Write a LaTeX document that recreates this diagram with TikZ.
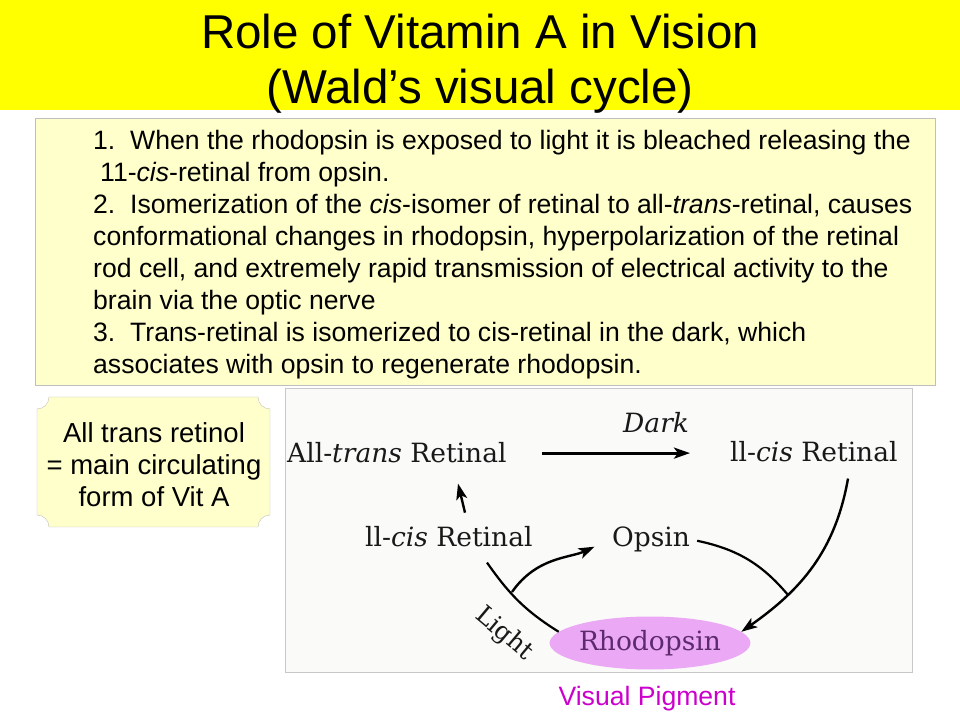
\documentclass[tikz,border=0pt]{standalone}
\usepackage{fontspec}
\setsansfont{Liberation Sans}
\newfontfamily\scanfont{DejaVu Serif}
\setlength{\parindent}{0pt}
\usepackage{tikz}
\usetikzlibrary{arrows.meta,shapes.geometric}

\definecolor{titleyellow}{HTML}{FFFF00}
\definecolor{notecream}{HTML}{FFFFCC}
\definecolor{noteedge}{HTML}{BFBFBF}
\definecolor{panelgray}{HTML}{FAFAF8}
\definecolor{paneledge}{HTML}{C8C8C8}
\definecolor{rhodofill}{HTML}{EBA8F5}
\definecolor{rhodotext}{HTML}{5E2A6E}
\definecolor{pigmentmagenta}{HTML}{CC00CC}

\begin{document}
\begin{tikzpicture}[x=1pt,y=1pt]
        \tikzstyle{arrow} = [line width=2.4pt,->,>={Stealth[length=16pt,width=11pt,inset=4pt]}]
        \tikzstyle{plainline} = [line width=2.2pt]
        \tikzstyle{term} = [font=\scanfont\fontsize{26.5}{32}\selectfont,text=black!90,inner sep=3pt,anchor=base west]
        \tikzstyle{bodytext} = [font=\sffamily\fontsize{26.6}{32}\selectfont,inner sep=0]

        \useasboundingbox (0,0) rectangle (960,720);
        \fill[titleyellow] (0,610) rectangle (960,720);
        \node[font=\sffamily\fontsize{47.5}{55}\selectfont,align=center,inner sep=0] (title) at (480,656.5) {Role of Vitamin A in Vision\\(Wald’s visual cycle)};

        \draw[noteedge,fill=notecream] (35,602) rectangle (935,335);
        \node[bodytext,align=left,anchor=north west] (steps) at (93,590.4) {1.\ \ When the rhodopsin is exposed to light it is bleached releasing the\\
            \hspace*{7pt}11-\textit{cis}-retinal from opsin.\\
            2.\ \ Isomerization of the \textit{cis}-isomer of retinal to all-\textit{trans}-retinal, causes\\
            conformational changes in rhodopsin, hyperpolarization of the retinal\\
            rod cell, and extremely rapid transmission of electrical activity to the\\
            brain via the optic nerve\\
            3.\ \ Trans-retinal is isomerized to cis-retinal in the dark, which\\
            associates with opsin to regenerate rhodopsin.};

        \draw[noteedge,fill=notecream] (49,323) -- (258,323) arc[start angle=180,end angle=270,radius=12]
            -- (270,205) arc[start angle=90,end angle=180,radius=12]
            -- (49,193) arc[start angle=0,end angle=90,radius=12]
            -- (37,311) arc[start angle=270,end angle=360,radius=12] -- cycle;
        \node[bodytext,font=\sffamily\fontsize{27.5}{32}\selectfont,align=center] (retinol) at (154,255.5) {All trans retinol\\= main circulating\\form of Vit A};

        \draw[paneledge,fill=panelgray] (285,332) rectangle (912,48);
        \node[term] (alltrans) at (284,257) {All-\textit{trans} Retinal};
        \node[term] (dark) at (620,287) {\textit{Dark}};
        \node[term] (cistop) at (727,258) {ll-\textit{cis} Retinal};
        \node[term] (cismid) at (362,173) {ll-\textit{cis} Retinal};
        \node[term] (opsin) at (609,173) {Opsin};
        \node[ellipse,fill=rhodofill,minimum width=190pt,minimum height=53pt,inner sep=0,text=rhodotext,font=\scanfont\fontsize{26.5}{32}\selectfont] (rhodo) at (650,77) {Rhodopsin};
        \node[term,font=\scanfont\fontsize{25}{30}\selectfont,anchor=center,rotate=-40] (light) at (504,86) {Light};
        \node[bodytext,text=pigmentmagenta] (pigment) at (647,21) {Visual Pigment};

        \coordinate (j1) at (512,128);
        \coordinate (j2) at (788,125);
        \draw [arrow,line width=3.2pt,shorten <=32pt,shorten >=37pt] (alltrans.east) -- (alltrans.east -| cistop.west);
        \draw [arrow] ([xshift=103pt,yshift=11pt]cismid.north west) -- ([xshift=174pt,yshift=-17pt]alltrans.south west);
        \draw [plainline] ([xshift=125pt,yshift=-12pt]cismid.south west) to[out=-55,in=148] (rhodo.173);
        \draw [arrow,shorten >=16pt] (j1) to[out=55,in=205] (opsin.west);
        \draw [plainline,shorten <=4pt] (opsin.east) to[out=-12,in=130] (j2);
        \draw [arrow] ([xshift=121pt,yshift=-13pt]cistop.south west) to[out=-100,in=35] (rhodo.7);
    \end{tikzpicture}
\end{document}
